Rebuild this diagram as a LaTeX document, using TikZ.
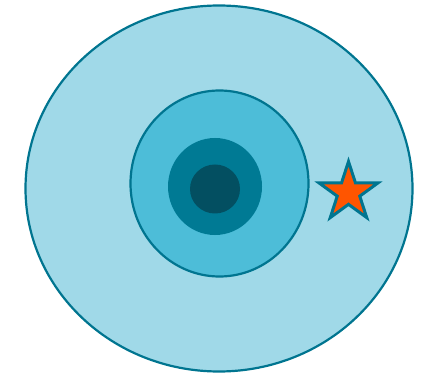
\documentclass[tikz,border=0pt]{standalone}
\usetikzlibrary{shapes.geometric}
\definecolor{outerfill}{HTML}{A0D9E8}
\definecolor{midfill}{HTML}{4DBDD8}
\definecolor{innerfill}{HTML}{007A94}
\definecolor{corefill}{HTML}{034F61}
\definecolor{edge}{HTML}{007590}
\definecolor{starfill}{HTML}{FF5500}
\begin{document}
\begin{tikzpicture}[x=1pt,y=-1pt,
  ring/.style={draw=edge,line width=2.2pt}]
\useasboundingbox (0,0) rectangle (426,377);
\draw[ring,fill=outerfill] (219,188.5) ellipse [x radius=193.5, y radius=183];
\draw[ring,fill=midfill] (219.5,183.5) ellipse [x radius=89, y radius=93];
\fill[innerfill] (215,186.5) ellipse [x radius=47, y radius=48.5];
\fill[corefill] (215,189) ellipse [x radius=25, y radius=24.5];
\node[star,star points=5,star point ratio=2.618,minimum size=62pt,inner sep=0pt,
  draw=edge,fill=starfill,line width=3pt] (st) at (348.5,192.5) {};
\end{tikzpicture}
\end{document}
